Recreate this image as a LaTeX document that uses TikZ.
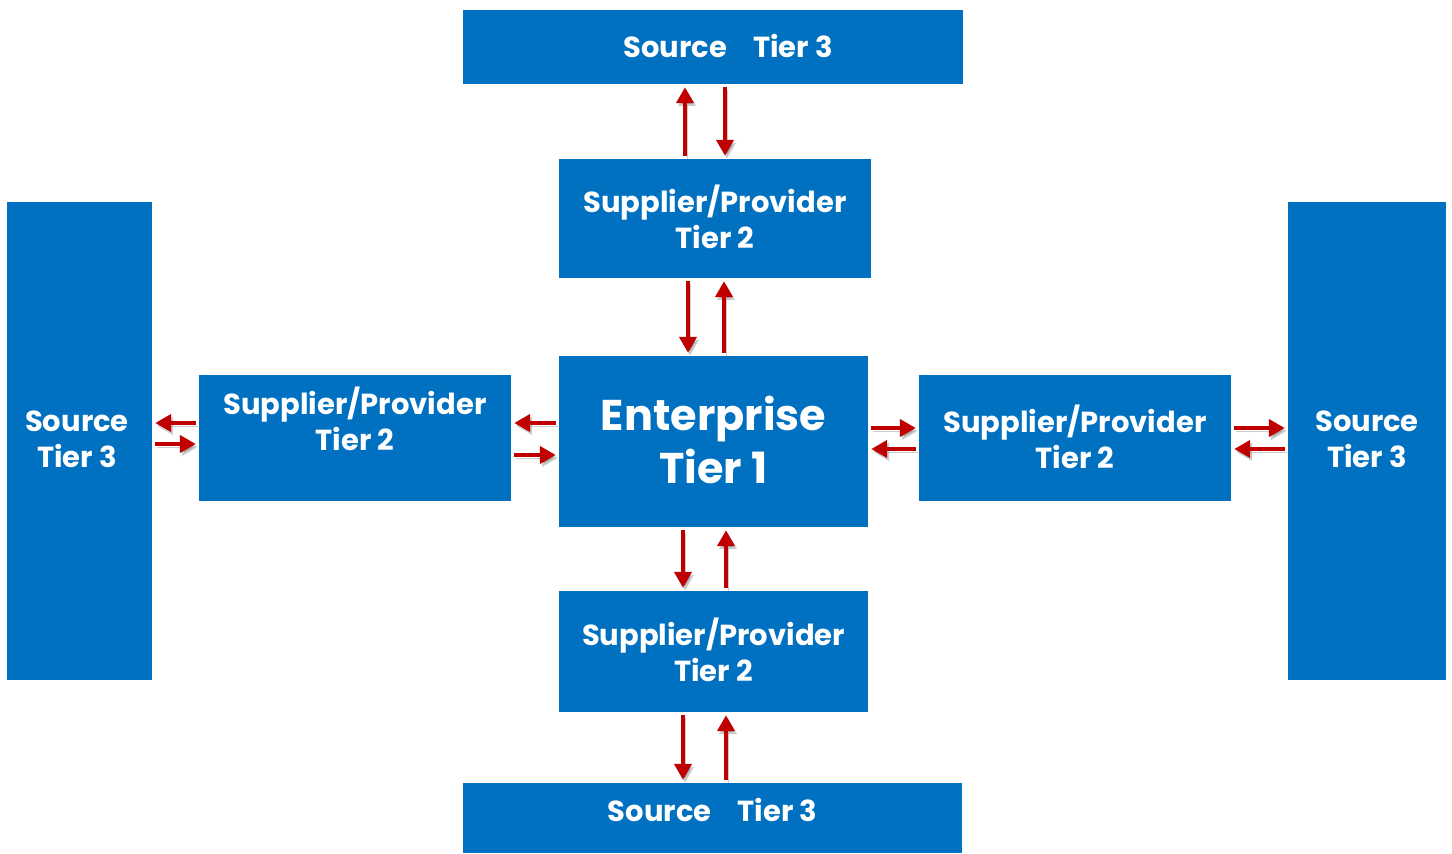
\documentclass[tikz,border=0pt]{standalone}
\usepackage{fontspec}
\setmainfont{Poppins}
\usetikzlibrary{arrows.meta}
\definecolor{tierblue}{HTML}{0070C0}
\definecolor{flowred}{HTML}{C00000}
\begin{document}
\begin{tikzpicture}[x=1pt,y=-1pt,
  box/.style={fill=tierblue,draw=none,inner sep=0pt},
  lbl/.style={text=white,font=\fontsize{29}{36}\selectfont\bfseries,align=center,inner sep=0pt},
  biglbl/.style={text=white,font=\fontsize{43}{53}\selectfont\bfseries,align=center,inner sep=0pt},
  flow/.style={draw=flowred,line width=4.2pt,-{Triangle[length=16pt,width=17pt]},
    preaction={draw=black,opacity=0.2,transform canvas={shift={(2pt,-3pt)}}},
    shorten <=3pt,shorten >=3pt}]
\useasboundingbox[fill=white] (0,0) rectangle (1452,854);
% tier boxes
\node[box,minimum width=500pt,minimum height=74pt] (tsrc) at (713,47) {};
\node[box,minimum width=312pt,minimum height=119pt] (tsup) at (715,218.5) {};
\node[box,minimum width=309pt,minimum height=171pt] (ent) at (713.5,441.5) {};
\node[box,minimum width=312pt,minimum height=126pt] (lsup) at (355,438) {};
\node[box,minimum width=312pt,minimum height=126pt] (rsup) at (1075,438) {};
\node[box,minimum width=309pt,minimum height=121pt] (bsup) at (713.5,651.5) {};
\node[box,minimum width=499pt,minimum height=70pt] (bsrc) at (712.5,818) {};
\node[box,minimum width=145pt,minimum height=478pt] (lsrc) at (79.5,441) {};
\node[box,minimum width=158pt,minimum height=478pt] (rsrc) at (1367,441) {};
% labels
\node[lbl] (tsrct) at (728,46) {Source\hspace{0.9em}Tier 3};
\node[lbl] (tsupt) at (715,217) {Supplier/Provider\\Tier 2};
\node[biglbl] (entt) at (713.5,440) {Enterprise\\Tier 1};
\node[lbl] (lsupt) at (355,419) {Supplier/Provider\\Tier 2};
\node[lbl] (rsupt) at (1075,437) {Supplier/Provider\\Tier 2};
\node[lbl] (bsupt) at (713.5,650) {Supplier/Provider\\Tier 2};
\node[lbl] (bsrct) at (712.5,810) {Source\hspace{0.9em}Tier 3};
\node[lbl] (lsrct) at (77,439) {Source\\Tier 3};
\node[lbl] (rsrct) at (1367,439) {Source\\Tier 3};
% vertical flows
\draw[flow] ([xshift=-30pt]tsup.north) -- ([xshift=-28pt]tsrc.south);
\draw[flow] ([xshift=12pt]tsrc.south) -- ([xshift=10pt]tsup.north);
\draw[flow] ([xshift=-27pt]tsup.south) -- ([xshift=-25.5pt]ent.north);
\draw[flow] ([xshift=10.5pt]ent.north) -- ([xshift=9pt]tsup.south);
\draw[flow] ([xshift=-30.5pt]ent.south) -- ([xshift=-30.5pt]bsup.north);
\draw[flow] ([xshift=12.5pt]bsup.north) -- ([xshift=12.5pt]ent.south);
\draw[flow] ([xshift=-30.5pt]bsup.south) -- ([xshift=-29.5pt]bsrc.north);
\draw[flow] ([xshift=13.5pt]bsrc.north) -- ([xshift=12.5pt]bsup.south);
% horizontal flows, left side
\draw[flow] (lsup.west |- 0,423) -- (lsrc.east |- 0,423);
\draw[flow] (lsrc.east |- 0,444) -- (lsup.west |- 0,444);
\draw[flow] (ent.west |- 0,423) -- (lsup.east |- 0,423);
\draw[flow] (lsup.east |- 0,455) -- (ent.west |- 0,455);
% horizontal flows, right side
\draw[flow] (ent.east |- 0,428) -- (rsup.west |- 0,428);
\draw[flow] (rsup.west |- 0,449) -- (ent.east |- 0,449);
\draw[flow] (rsup.east |- 0,428) -- (rsrc.west |- 0,428);
\draw[flow] (rsrc.west |- 0,449) -- (rsup.east |- 0,449);
\end{tikzpicture}
\end{document}
